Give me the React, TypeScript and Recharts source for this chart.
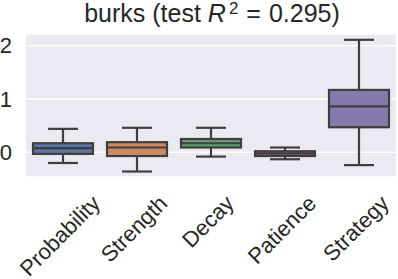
import { ComposedChart, Bar, XAxis, YAxis, CartesianGrid } from 'recharts';

// ─── Data ────────────────────────────────────────────────────────────────────
const categories = ['Probability', 'Strength', 'Decay', 'Patience', 'Strategy'];
const whiskerLow = [-0.2, -0.36, -0.08, -0.13, -0.24];
const quartile1 = [-0.03, -0.07, 0.09, -0.07, 0.47];
const medians = [0.08, 0.09, 0.17, -0.02, 0.86];
const quartile3 = [0.17, 0.19, 0.25, 0.02, 1.17];
const whiskerHigh = [0.44, 0.46, 0.46, 0.09, 2.11];
const boxColors = ['#5875a4', '#cc8963', '#5f9e6e', '#b55d60', '#857aab'];
const yTicks = [0, 1, 2];

const LINE = '#3f3f3f';
const TEXT = '#262626';
const FONT = '"Liberation Sans", Arial, sans-serif';
const TICK_SIZE = 22;

const data = categories.map((name, i) => ({
  name,
  lo: whiskerLow[i],
  q1: quartile1[i],
  med: medians[i],
  q3: quartile3[i],
  hi: whiskerHigh[i],
  color: boxColors[i],
}));

let measureCtx: CanvasRenderingContext2D | null = null;
function textWidth(s: string) {
  if (!measureCtx) measureCtx = document.createElement('canvas').getContext('2d');
  if (!measureCtx) return s.length * TICK_SIZE * 0.5;
  measureCtx.font = `${TICK_SIZE}px ${FONT}`;
  return measureCtx.measureText(s).width;
}

function BoxShape(props: any) {
  const { x, y, width, height, payload } = props;
  const top = Math.min(y, y + height);
  const bottom = Math.max(y, y + height);
  const span = payload.hi - payload.lo || 1;
  const pix = (v: number) => top + ((payload.hi - v) / span) * (bottom - top);
  const cx = x + width / 2;
  const cap = width / 4;
  const yQ1 = pix(payload.q1);
  const yQ3 = pix(payload.q3);
  const yMed = pix(payload.med);
  return (
    <g stroke={LINE} strokeWidth={2.2}>
      <line x1={cx} x2={cx} y1={top} y2={yQ3} />
      <line x1={cx} x2={cx} y1={yQ1} y2={bottom} />
      <line x1={cx - cap} x2={cx + cap} y1={top} y2={top} />
      <line x1={cx - cap} x2={cx + cap} y1={bottom} y2={bottom} />
      <rect x={x} y={yQ3} width={width} height={Math.max(yQ1 - yQ3, 0.5)} fill={payload.color} />
      <line x1={x} x2={x + width} y1={yMed} y2={yMed} />
    </g>
  );
}

function RotatedTick(props: any) {
  const { x, y, payload } = props;
  const w = textWidth(payload.value);
  const cx = x - 3;
  const cy = y + 22.5 + w * 0.3535;
  return (
    <text
      x={cx}
      y={cy}
      textAnchor="middle"
      dominantBaseline="central"
      transform={`rotate(-45, ${cx}, ${cy})`}
      fontSize={TICK_SIZE}
      fontFamily={FONT}
      fill={TEXT}
    >
      {payload.value}
    </text>
  );
}

export default function App() {
  return (
    <div style={{ position: 'absolute', left: 0, top: 0, width: 398, height: 279, background: '#fff' }}>
      <ComposedChart
        width={398}
        height={279}
        data={data}
        margin={{ top: 34, right: 2, left: 0, bottom: 0 }}
      >
        <CartesianGrid vertical={false} stroke="#ffffff" strokeWidth={1.5} fill="#eaeaf2" fillOpacity={1} />
        <XAxis
          dataKey="name"
          height={102}
          axisLine={false}
          tickLine={false}
          tickSize={0}
          tickMargin={0}
          interval={0}
          tick={<RotatedTick />}
        />
        <YAxis
          type="number"
          width={26}
          domain={[-0.463, 2.219]}
          allowDataOverflow
          ticks={yTicks}
          axisLine={false}
          tickLine={false}
          tickSize={0}
          tickMargin={14}
          tick={{ fontSize: TICK_SIZE, fill: TEXT, fontFamily: FONT }}
        />
        <Bar
          dataKey={(d: any) => [d.lo, d.hi]}
          barSize={60}
          shape={<BoxShape />}
          isAnimationActive={false}
        />
      </ComposedChart>
      <svg
        width={398}
        height={34}
        style={{ position: 'absolute', left: 0, top: 0, pointerEvents: 'none' }}
      >
        <text x={212} y={22} textAnchor="middle" fontSize={25} fontFamily={FONT} fill={TEXT}>
          <tspan>burks (test </tspan>
          <tspan fontStyle="italic">R</tspan>
          <tspan dx={3} dy={-8} fontSize={17}>2</tspan>
          <tspan dy={8} dx={8}>=</tspan>
          <tspan dx={8}>0.295)</tspan>
        </text>
      </svg>
    </div>
  );
}
